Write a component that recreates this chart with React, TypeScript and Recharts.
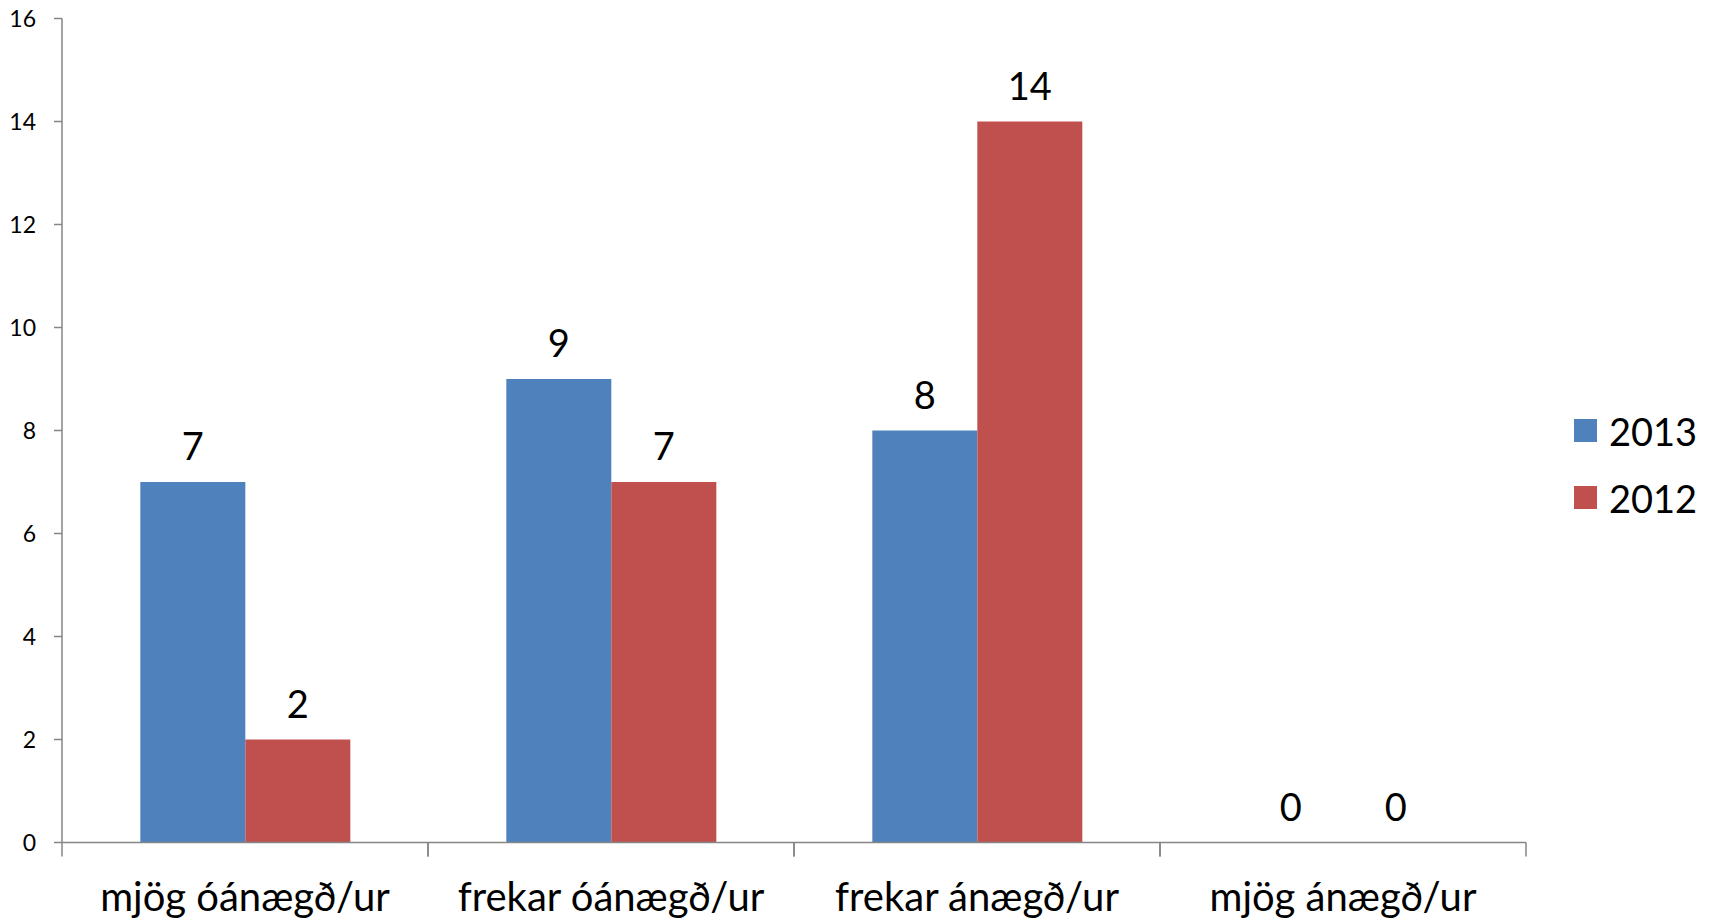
import React from 'react';
import { BarChart, Bar, XAxis, YAxis, Legend, LabelList, Cell } from 'recharts';

const categories = ['mjög óánægð/ur', 'frekar óánægð/ur', 'frekar ánægð/ur', 'mjög ánægð/ur'];
const series2013 = [7, 9, 8, 0];
const series2012 = [2, 7, 14, 0];
const yTicks = [0, 2, 4, 6, 8, 10, 12, 14, 16];

const BLUE = '#4F81BD';
const RED = '#C0504D';
const AXIS = '#868686';
const FONT = 'Lato, "Open Sans", sans-serif';

const data = categories.map((c, i) => ({ name: c, y2013: series2013[i], y2012: series2012[i] }));

const legendItems = [
  { label: '2013', color: BLUE },
  { label: '2012', color: RED },
];

const LegendContent = () => (
  <div style={{ fontFamily: FONT, fontSize: 38, color: '#000' }}>
    {legendItems.map((it) => (
      <div key={it.label} style={{ display: 'flex', alignItems: 'center', height: 67 }}>
        <div style={{ width: 23, height: 23, background: it.color, marginRight: 12 }} />
        <span>{it.label}</span>
      </div>
    ))}
  </div>
);

const renderValueLabel = (props: any) => {
  const { x, y, width, height, value } = props;
  const top = Math.min(Number(y), Number(y) + Number(height));
  const base = value === 0 ? Number(y) + Number(height) : top;
  return (
    <text
      x={Number(x) + Number(width) / 2}
      y={base - 22}
      textAnchor="middle"
      fill="#000"
      fontSize={38}
      fontFamily={FONT}
    >
      {value}
    </text>
  );
};

const CategoryTick = (props: any) => {
  const { x, y, payload, width, visibleTicksCount } = props;
  const half = Number(width) / Number(visibleTicksCount) / 2;
  const cx = Number(x);
  const cy = Number(y);
  return (
    <g>
      <line x1={cx - half} x2={cx - half} y1={cy} y2={cy + 14} stroke={AXIS} strokeWidth={1.5} />
      <line x1={cx + half} x2={cx + half} y1={cy} y2={cy + 14} stroke={AXIS} strokeWidth={1.5} />
      <text x={cx} y={cy + 68.5} textAnchor="middle" fill="#000" fontSize={40} fontFamily={FONT}>
        {payload.value}
      </text>
    </g>
  );
};

export default function App() {
  return (
    <div style={{ position: 'absolute', left: 0, top: 0, width: 1709, height: 920, background: '#fff' }}>
      <BarChart
        width={1709}
        height={920}
        data={data}
        margin={{ top: 18.5, right: 183, left: 0, bottom: 18.5 }}
        barCategoryGap="21.4%"
        barGap={0}
      >
        <XAxis
          dataKey="name"
          height={59}
          axisLine={{ stroke: AXIS, strokeWidth: 1.5 }}
          tickLine={false}
          tickSize={0}
          tickMargin={0}
          interval={0}
          tick={<CategoryTick />}
        />
        <YAxis
          width={62}
          domain={[0, 16]}
          ticks={yTicks}
          tickSize={8}
          tickMargin={18}
          interval={0}
          axisLine={{ stroke: AXIS, strokeWidth: 1.5 }}
          tickLine={{ stroke: AXIS, strokeWidth: 1.5 }}
          tick={{ fill: '#000', fontSize: 23, fontFamily: FONT }}
        />
        <Legend
          layout="horizontal"
          verticalAlign="middle"
          align="center"
          content={<LegendContent />}
          wrapperStyle={{ left: 1574, top: 397, width: 135, height: 134 }}
        />
        <Bar dataKey="y2013" fill={BLUE} minPointSize={1} isAnimationActive={false}>
          {series2013.map((v, i) => (
            <Cell key={`a${i}`} fill={v === 0 ? 'transparent' : BLUE} />
          ))}
          <LabelList dataKey="y2013" position="top" content={renderValueLabel} />
        </Bar>
        <Bar dataKey="y2012" fill={RED} minPointSize={1} isAnimationActive={false}>
          {series2012.map((v, i) => (
            <Cell key={`b${i}`} fill={v === 0 ? 'transparent' : RED} />
          ))}
          <LabelList dataKey="y2012" position="top" content={renderValueLabel} />
        </Bar>
      </BarChart>
    </div>
  );
}
